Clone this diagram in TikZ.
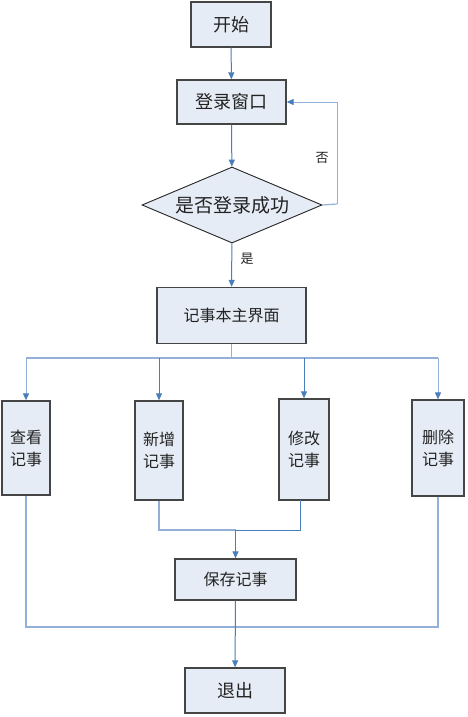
\documentclass[tikz,border=0pt]{standalone}
\usepackage{fontspec}
\setmainfont{Noto Sans CJK SC}
\usetikzlibrary{arrows.meta,shapes.geometric}
\definecolor{boxfill}{HTML}{E6ECF6}
\definecolor{boxdraw}{HTML}{454545}
\definecolor{arrblue}{HTML}{4A7EBB}
\definecolor{lineblue}{HTML}{93B1D8}
\definecolor{txt}{HTML}{222222}
\tikzset{
  box/.style={draw=boxdraw, line width=1.3pt, fill=boxfill, inner sep=0pt, text=txt, align=center},
  decbox/.style={draw=black!85, line width=0.9pt, fill=boxfill, shape=diamond, inner sep=0pt, aspect=2.37, text=txt},
  arr/.style={draw=arrblue, line width=1pt, -{Triangle[length=7pt,width=6pt,color=arrblue]}},
  plain/.style={draw=lineblue, line width=1.2pt},
  darkline/.style={draw=arrblue, line width=1pt},
  lbl/.style={text=txt, font=\fontsize{13}{15}\selectfont, inner sep=0pt}
}
\begin{document}
\begin{tikzpicture}[x=1pt,y=-1pt]
\useasboundingbox (0,0) rectangle (468,717);
\fill[white] (0,0) rectangle (468,717);

\node[box, minimum width=80pt, minimum height=45pt, font=\fontsize{18}{20}\selectfont] (start) at (231,24.5) {开始};
\node[box, minimum width=109pt, minimum height=44pt, font=\fontsize{18}{20}\selectfont] (login) at (231.5,102) {登录窗口};
\node[decbox, minimum width=180pt, minimum height=76pt, font=\fontsize{19}{21}\selectfont] (dec) at (232,205) {是否登录成功};
\node[box, minimum width=149pt, minimum height=56pt, font=\fontsize{16}{18}\selectfont] (main) at (231.5,315.5) {记事本主界面};

\node[box, minimum width=48pt, minimum height=94pt, font=\fontsize{16}{22}\selectfont] (view) at (26,448) {查看\\记事};
\node[box, minimum width=48pt, minimum height=99pt, font=\fontsize{16}{22}\selectfont] (new) at (159,450.5) {新增\\记事};
\node[box, minimum width=50pt, minimum height=101pt, font=\fontsize{16}{22}\selectfont] (edit) at (304,449.5) {修改\\记事};
\node[box, minimum width=52pt, minimum height=96pt, font=\fontsize{16}{22}\selectfont] (del) at (438,448) {删除\\记事};

\node[box, minimum width=121pt, minimum height=41pt, font=\fontsize{16}{18}\selectfont] (save) at (235.5,579.5) {保存记事};
\node[box, minimum width=100pt, minimum height=45pt, font=\fontsize{18}{20}\selectfont] (exit) at (235,690.5) {退出};

\coordinate (loop) at (337,204);
\coordinate (br) at (231.5,358);
\coordinate (m1) at (235.5,530);
\coordinate (m2) at (235,627);
\coordinate (eb) at (300,500);

% connectors
\draw[arr] (start) -- (login);
\draw[arr] (login) -- (dec);
\draw[plain] (dec.east) -- (loop);
\draw[arr, draw=lineblue] (loop) |- (login.east);
\node[lbl] (no) at (322,158) {否};
\draw[arr] (dec) -- (main);
\node[lbl] (yes) at (247,259) {是};

\draw[plain] (main) -- (br);
\draw[plain] (view.north |- br) -- (del.north |- br);
\draw[arr, draw=lineblue] (view.north |- br) -- (view.north);
\draw[arr] (new.north |- br) -- (new.north);
\draw[arr] (edit.north |- br) -- (edit.north);
\draw[arr, draw=lineblue] (del.north |- br) -- (del.north);

\draw[plain] (new.south) |- (m1);
\draw[darkline] (eb) |- (m1);
\draw[arr] (m1) -- (save.north);

\draw[plain] (view.south) |- (m2);
\draw[plain] (del.south) |- (m2);
\draw[arr] (save) -- (exit);
\end{tikzpicture}
\end{document}
